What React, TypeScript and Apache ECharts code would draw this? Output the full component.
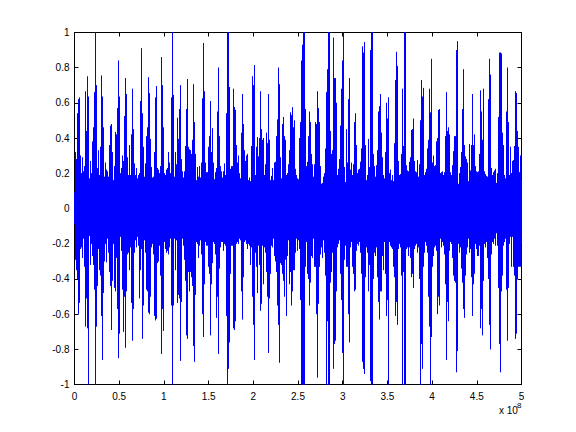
import React, { useEffect, useRef } from "react";
import * as echarts from "echarts";

const X_TICK_STEP = 0.5;
const Y_TICK_STEP = 0.2;
const COLUMN_COUNT = 448;
const RIGHT_START = 216;

const upperLeft = [.09,
.32,.28,.54,.62,.63,.30,.20,.29,.21,.24,
.665,.44,.75,.635,.17,.27,.20,.38,.46,.66,
1,.70,.23,.33,.19,.35,.755,.635,.46,.18,
.26,.22,.21,.18,.36,.47,.48,.32,.16,.24,
.435,.42,.57,.84,.635,.20,.23,.30,.27,.525,
.74,.65,.29,.19,.36,.19,.42,.68,.45,.255,
.19,.23,.17,.19,.20,.61,.91,.54,.35,.18,
.255,.41,.46,.745,.655,.395,.235,.175,.18,.32,
.63,.695,.23,.22,.20,.24,.86,.70,.46,.20,
.19,.22,.23,.32,.26,.20,.63,1,.645,.18,
.32,.25,.515,.395,.565,.70,.28,.21,.175,.21,
.355,.565,.735,.35,.335,.33,.31,.39,.705,.49,
.31,.16,.235,.18,.24,.175,.26,.625,.94,.665,
.26,.205,.205,.35,.41,.61,.32,.455,.26,.165,
.205,.23,.55,.80,.41,.24,.21,.175,.21,.255,
.19,.54,1,1,.69,.225,.24,.24,.68,.575,
.56,.36,.26,.30,.20,.17,.43,.65,.48,.33,
.27,.30,.31,.16,.175,.155,.355,.75,.70,.815,
.19,.35,.405,.295,.40,.665,.45,.39,.40,.19,
.25,.43,.37,.65,.39,.16,.185,.23,.16,.26,
.265,.41,.505,.80,.705,.29,.17,.48,.52,.41,
.39,.19,.20,.25,.33];

const upperRight = [.545,.53,.575,.46,.50,.225,.19,.17,.165,.40,
.49,.84,.93,1,1,.565,.24,.265,.41,.55,
.49,.31,.25,.18,.25,.49,.48,.665,.57,.49,
.24,.14,.145,.18,.20,.34,.66,.79,1,1,
.44,.31,.33,.97,.74,.74,.60,.19,.225,.28,
.47,.68,.84,1,.235,.15,.45,.26,.62,.74,
.22,.26,.19,.25,.49,.54,.36,.20,.22,.225,
.265,.34,.92,.885,.945,.36,.16,.19,.395,.235,
.90,1,1,.31,.24,.18,.245,.33,.55,.58,
.65,.43,.29,.19,.17,.32,.60,.51,.63,.20,
.22,.16,.19,.155,.37,.73,.89,.81,.27,.19,
.195,.31,.68,.355,1,1,.245,.215,.21,.265,
.29,.445,.45,.51,.27,.21,.205,.275,.18,.25,
.50,.73,.635,.685,.19,.205,.225,.34,.39,.68,
.545,.85,.26,.30,.24,.245,.38,.40,.56,.565,
.20,.205,.21,.19,.205,.41,.66,.44,.46,.42,
.205,.19,.245,.325,.41,.41,.90,.95,.14,.20,
.235,.32,.565,.79,.36,.295,.28,.26,.155,.365,
.215,.36,.65,.36,.42,.24,.21,.205,.21,.31,
.67,.55,.39,.68,.21,.195,.185,.18,.62,.85,
.76,.23,.19,.205,.215,.225,.145,.20,.52,.885,
.885,.88,.43,.36,.19,.17,.55,.80,.49,.19,
.35,.20,.27,.275,.355,.665,.655,.44,.35,.205,
.30,.16];

const lowerLeft = [.09,
.29,.35,.40,.60,.535,.23,.22,.28,.17,.33,
.67,.51,.68,1,.155,.32,.20,.27,.32,.46,
1,.67,.44,.23,.35,.38,.61,.86,.48,.30,
.20,.305,.17,.25,.36,.44,.69,.41,.20,.45,
.47,.28,.57,.85,.71,.16,.24,.46,.70,.50,
.79,.47,.26,.25,.35,.22,.535,.75,.57,.25,
.18,.22,.16,.21,.51,.35,.23,.74,.55,.18,
.25,.46,.47,.59,.60,.50,.22,.20,.26,.61,
.635,.625,.31,.30,.21,.38,.825,.57,.695,.19,
.23,.25,.24,.26,.22,.17,.55,1,.55,.17,
.35,.18,.535,.49,.51,.865,.53,.17,.21,.29,
.41,.72,.74,.36,.47,.36,.39,.44,.78,.87,
.49,.19,.20,.28,.21,.18,.26,.60,.73,.43,
.19,.21,.21,.33,.37,.72,.43,.31,.19,.20,
.26,.62,.50,.825,.34,.22,.19,.19,.24,.20,
.21,.61,1,.91,.76,.37,.21,.21,.68,.69,
.64,.20,.19,.20,.17,.18,.47,.63,.39,.19,
.18,.20,.23,.20,.21,.32,.22,.50,.66,.86,
.25,.33,.48,.21,.32,.58,.54,.21,.43,.22,
.25,.36,.50,.82,.51,.37,.21,.22,.17,.27,
.30,.36,.55,.66,.875,.31,.32,.37,.41,.50,
.29,.61,.27,.18,.43];

const lowerRight = [.36,.55,.47,.35,.35,.25,.17,.24,.18,.23,
.52,1,1,1,1,.33,.19,.37,.40,.55,
.42,.27,.28,.17,.33,.33,.60,.96,.54,.33,
.26,.22,.28,.18,.25,.38,1,.64,1,1,
.42,.36,.25,.91,.77,.75,.47,.22,.20,.18,
.37,.52,.82,1,.29,.21,.33,.33,.60,.76,
.22,.19,.33,.37,.47,.46,.24,.20,.21,.19,
.25,.37,.87,.91,.94,.39,.22,.25,.47,.32,
.98,1,1,.40,.25,.27,.22,.39,.53,.63,
.47,.47,.27,.35,.19,.37,.61,.52,1,.19,
.21,.22,.23,.33,.39,.61,.53,.66,.23,.20,
.22,.38,1,.36,1,1,.23,.22,.27,.22,
.28,.39,.37,.45,.23,.21,.20,.25,.22,.40,
1,.77,.91,.33,.25,.19,.21,.25,.50,.67,
1,.73,.33,.27,.22,.21,.24,.60,.50,.55,
.17,.22,.19,.21,.26,.43,.86,.53,.64,.24,
.19,.20,.28,.38,.41,.42,.93,.81,.20,.25,
.22,.34,.42,.57,.62,.38,.26,.22,.17,.25,
.23,.39,.61,.43,.37,.20,.23,.27,.27,.21,
.68,.57,.72,.41,.20,.22,.19,.28,.40,.66,
.80,.26,.19,.20,.17,.21,.14,.21,.45,.77,
.93,.47,.38,.21,.19,.17,.46,.75,.45,.20,
.16,.33,.16,.33,.38,.74,.71,.40,.33,.33,
.33,.20];

function columnValue(list: number[], rightList: number[], i: number): number {
  return i < RIGHT_START ? list[i] : rightList[i - RIGHT_START];
}

export default function App() {
  const ref = useRef<HTMLDivElement>(null);
  useEffect(() => {
    const chart = echarts.init(ref.current!, undefined, { renderer: "svg" });
    const data: number[][] = [];
    for (let i = 0; i < COLUMN_COUNT; i++) {
      const x = (i / (COLUMN_COUNT - 1)) * 5;
      const u = columnValue(upperLeft, upperRight, i) ?? 0.2;
      const l = columnValue(lowerLeft, lowerRight, i) ?? 0.2;
      data.push([x, 0], [x, u], [x, -l], [x, 0]);
    }
    const font = { fontFamily: "Liberation Sans", fontSize: 10, color: "#000" };
    const base = {
      min: undefined,
      axisLine: { show: true, onZero: false, lineStyle: { color: "#000", width: 1 } },
      splitLine: { show: false },
    };
    const xBase = {
      ...base,
      type: "value" as const,
      min: 0,
      max: 5,
      interval: X_TICK_STEP,
    };
    const yBase = {
      ...base,
      type: "value" as const,
      min: -1,
      max: 1,
      interval: Y_TICK_STEP,
    };
    const ticks = { show: true, inside: true, length: 4, lineStyle: { color: "#000", width: 1 } };
    chart.setOption({
      animation: false,
      backgroundColor: "#fff",
      grid: { left: 74.5, top: 32.5, width: 447, height: 352, containLabel: false },
      xAxis: [
        {
          ...xBase,
          position: "bottom",
          axisTick: ticks,
          axisLabel: { ...font, margin: 7, formatter: (v: number) => String(v) },
        },
        { ...xBase, position: "top", axisTick: ticks, axisLabel: { show: false } },
      ],
      yAxis: [
        {
          ...yBase,
          position: "left",
          axisTick: ticks,
          axisLabel: {
            ...font,
            margin: 5,
            formatter: (v: number) => String(Math.round(v * 10) / 10),
          },
        },
        { ...yBase, position: "right", axisTick: ticks, axisLabel: { show: false } },
      ],
      series: [
        {
          type: "line",
          data,
          showSymbol: false,
          symbol: "none",
          silent: true,
          lineStyle: { color: "#0000ff", width: 1, join: "miter", cap: "butt" },
          itemStyle: { color: "#0000ff" },
        },
      ],
      graphic: [
        {
          type: "text",
          x: 499,
          y: 405,
          style: { text: "x 10", fontFamily: "Liberation Sans", fontSize: 10, fill: "#000" },
        },
        {
          type: "text",
          x: 517,
          y: 401,
          style: { text: "8", fontFamily: "Liberation Sans", fontSize: 8, fill: "#000" },
        },
      ],
    });
    return () => chart.dispose();
  }, []);
  return <div ref={ref} style={{ width: 576, height: 432, position: "fixed", left: 0, top: 0 }} />;
}
